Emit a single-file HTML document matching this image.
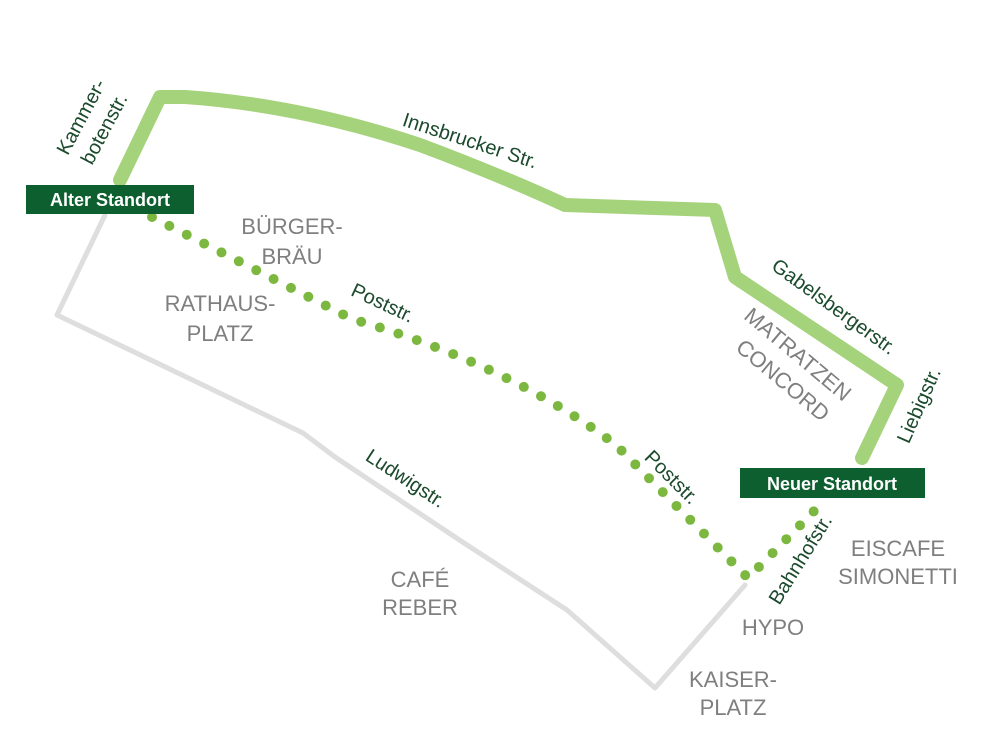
<!DOCTYPE html>
<html><head><meta charset="utf-8"><style>
html,body{margin:0;padding:0;background:#fff;width:988px;height:730px;overflow:hidden}
svg{display:block}
.s{font-family:"Liberation Sans",sans-serif;font-size:20px;fill:#1b4a2c}
.g{font-family:"Liberation Sans",sans-serif;font-size:22px;fill:#7f7f7f;text-anchor:middle}
.b{font-family:"Liberation Sans",sans-serif;font-size:18px;font-weight:bold;fill:#fff;text-anchor:middle}
</style></head><body>
<svg width="988" height="730" viewBox="0 0 988 730" xmlns="http://www.w3.org/2000/svg">
<polyline points="105,215 57,315 303,433 335,457 464,543 567,610 655,688 745,585" fill="none" stroke="#dedede" stroke-width="5" stroke-linejoin="round" stroke-linecap="round"/>
<path d="M120,180 L160,97 L185,97 Q300,105 420,145 Q500,175 565,205 L715,210 L735,277 L897,385 L862,458" fill="none" stroke="#a5d37c" stroke-width="14" stroke-linejoin="round" stroke-linecap="round"/>
<path d="M152,217 L352,319 Q510,365 616,445 L748,578 L820,505" fill="none" stroke="#7cb83f" stroke-width="10" stroke-linecap="round" stroke-linejoin="round" stroke-dasharray="0 19.5"/>
<rect x="26" y="185" width="168" height="29" fill="#0d5f30"/>
<text class="b" x="110" y="206">Alter Standort</text>
<rect x="740" y="468" width="185" height="30" fill="#0d5f30"/>
<text class="b" x="832" y="490">Neuer Standort</text>
<text class="s" transform="translate(87,120) rotate(-62)" text-anchor="middle">Kammer-</text>
<text class="s" transform="translate(110,132) rotate(-62)" text-anchor="middle">botenstr.</text>
<text class="s" transform="translate(468,147) rotate(18)" text-anchor="middle">Innsbrucker Str.</text>
<text class="s" transform="translate(830,312) rotate(36)" text-anchor="middle">Gabelsbergerstr.</text>
<text class="s" transform="translate(925,408) rotate(-66)" text-anchor="middle">Liebigstr.</text>
<text class="s" transform="translate(380,309) rotate(25)" text-anchor="middle">Poststr.</text>
<text class="s" transform="translate(667,482) rotate(45)" text-anchor="middle">Poststr.</text>
<text class="s" transform="translate(402,484) rotate(33)" text-anchor="middle">Ludwigstr.</text>
<text class="s" transform="translate(806,563) rotate(-58)" text-anchor="middle">Bahnhofstr.</text>
<text class="g" x="292" y="234">BÜRGER-</text>
<text class="g" x="292" y="264">BRÄU</text>
<text class="g" x="220" y="311">RATHAUS-</text>
<text class="g" x="220" y="341">PLATZ</text>
<text class="g" transform="translate(793,360) rotate(40)">MATRATZEN</text>
<text class="g" transform="translate(778,386) rotate(40)">CONCORD</text>
<text class="g" x="420" y="587">CAFÉ</text>
<text class="g" x="420" y="615">REBER</text>
<text class="g" x="898" y="556">EISCAFE</text>
<text class="g" x="898" y="584">SIMONETTI</text>
<text class="g" x="773" y="635">HYPO</text>
<text class="g" x="733" y="687">KAISER-</text>
<text class="g" x="733" y="715">PLATZ</text>
</svg>
</body></html>
